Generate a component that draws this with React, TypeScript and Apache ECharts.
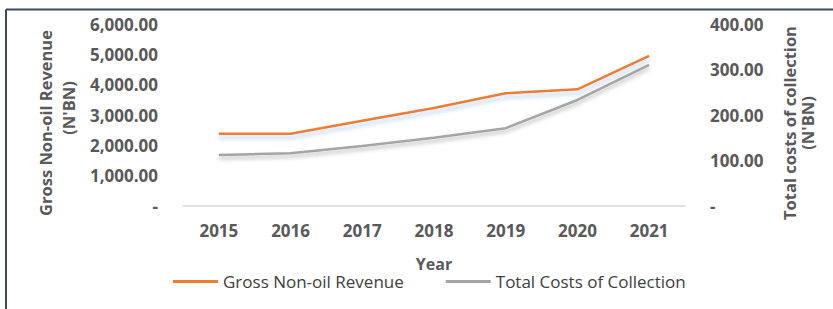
import React, { useEffect, useRef } from "react";
import * as echarts from "echarts";

const years = ["2015", "2016", "2017", "2018", "2019", "2020", "2021"];
const grossNonOilRevenue = [2384, 2384, 2810, 3230, 3716, 3848, 4946];
const totalCostsOfCollection = [112, 116, 132, 150, 171, 233, 310];
const leftTicks = { min: 0, max: 6000, interval: 1000 };
const rightTicks = { min: 0, max: 400, interval: 100 };

const fmt = (v: number) =>
  v === 0
    ? "-"
    : v.toLocaleString("en-US", { minimumFractionDigits: 2, maximumFractionDigits: 2 });

export default function App() {
  const ref = useRef<HTMLDivElement>(null);
  useEffect(() => {
    if (!ref.current) return;
    const chart = echarts.init(ref.current, undefined, { renderer: "svg" });
    const labelStyle = {
      fontFamily: "Open Sans",
      fontWeight: "bold" as const,
      fontSize: 17,
      color: "#595959",
    };
    const titleFont = "bold 16.5px 'Open Sans'";
    chart.setOption({
      animation: false,
      backgroundColor: "#ffffff",
      grid: { left: 183, right: 148, top: 24, bottom: 103 },
      legend: {
        left: 168,
        top: 268,
        itemWidth: 45,
        itemHeight: 3,
        itemGap: 42,
        icon: "rect",
        textStyle: { fontFamily: "Open Sans", fontSize: 17, color: "#404040" },
        data: ["Gross Non-oil Revenue", "Total Costs of Collection"],
      },
      xAxis: {
        type: "category",
        data: years,
        boundaryGap: true,
        name: "Year",
        nameLocation: "middle",
        nameGap: 50,
        nameTextStyle: { ...labelStyle, fontSize: 16 },
        axisLine: { lineStyle: { color: "#d9d9d9", width: 1.5 } },
        axisTick: { show: false },
        axisLabel: { ...labelStyle, margin: 16 },
      },
      yAxis: [
        {
          type: "value",
          ...leftTicks,
          splitLine: { show: false },
          axisLine: { show: false },
          axisTick: { show: false },
          axisLabel: { ...labelStyle, margin: 25, formatter: fmt },
        },
        {
          type: "value",
          ...rightTicks,
          position: "right",
          splitLine: { show: false },
          axisLine: { show: false },
          axisTick: { show: false },
          axisLabel: { ...labelStyle, margin: 25, formatter: fmt, align: "left" },
        },
      ],
      series: [
        {
          name: "Gross Non-oil Revenue",
          type: "line",
          yAxisIndex: 0,
          data: grossNonOilRevenue,
          symbol: "none",
          color: "#ED7D31",
          lineStyle: {
            color: "#ED7D31",
            width: 2.5,
            shadowColor: "rgba(120,170,220,0.5)",
            shadowBlur: 4,
            shadowOffsetY: 4,
          },
        },
        {
          name: "Total Costs of Collection",
          type: "line",
          yAxisIndex: 1,
          data: totalCostsOfCollection,
          symbol: "none",
          color: "#A5A5A5",
          lineStyle: {
            color: "#A5A5A5",
            width: 2.5,
            shadowColor: "rgba(0,0,0,0.28)",
            shadowBlur: 4,
            shadowOffsetY: 3,
          },
        },
      ],
      graphic: [
        {
          type: "line",
          shape: { x1: 6, y1: 9.5, x2: 833, y2: 9.5 },
          style: { stroke: "#3b4a60", lineWidth: 2 },
        },
        {
          type: "line",
          shape: { x1: 6, y1: 9.5, x2: 6, y2: 309 },
          style: { stroke: "#3b4a60", lineWidth: 2 },
        },
        {
          type: "text",
          x: 45,
          y: 123,
          rotation: Math.PI / 2,
          style: {
            text: "Gross Non-oil Revenue",
            align: "center",
            verticalAlign: "middle",
            font: titleFont,
            fill: "#595959",
          },
        },
        {
          type: "text",
          x: 68,
          y: 108,
          rotation: Math.PI / 2,
          style: {
            text: "(N'BN)",
            align: "center",
            verticalAlign: "middle",
            font: titleFont,
            fill: "#595959",
          },
        },
        {
          type: "text",
          x: 789,
          y: 123,
          rotation: Math.PI / 2,
          style: {
            text: "Total costs of collection",
            align: "center",
            verticalAlign: "middle",
            font: titleFont,
            fill: "#595959",
          },
        },
        {
          type: "text",
          x: 807,
          y: 123,
          rotation: Math.PI / 2,
          style: {
            text: "(N'BN)",
            align: "center",
            verticalAlign: "middle",
            font: titleFont,
            fill: "#595959",
          },
        },
      ],
    });
    return () => chart.dispose();
  }, []);
  return (
    <div
      ref={ref}
      style={{ position: "fixed", left: 0, top: 0, width: 833, height: 309 }}
    />
  );
}
